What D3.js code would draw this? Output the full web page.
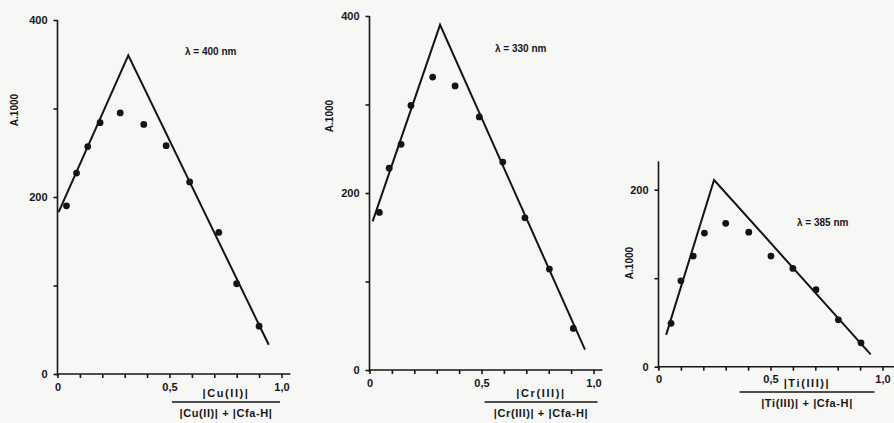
<!DOCTYPE html>
<html lang="en">
<head>
    <meta charset="UTF-8">
    <title>Job plots - Cu(II), Cr(III), Ti(III) with Cfa-H</title>
    <style>
        body {
            margin: 0;
            padding: 0;
            background-color: #f7f7f6;
        }
        svg {
            display: block;
            font-family: "Liberation Sans", Arial, sans-serif;
            font-weight: bold;
        }
        .axis path, .axis line {
            stroke: #161616;
            stroke-width: 1.6;
        }
        .axis text {
            fill: #161616;
            font-size: 11px;
            font-weight: bold;
            font-family: "Liberation Sans", Arial, sans-serif;
        }
        .fit {
            fill: none;
            stroke: #141414;
            stroke-width: 2;
        }
        .dot {
            fill: #141414;
        }
        .lbl {
            fill: #161616;
            font-size: 10px;
        }
        .frac {
            fill: #161616;
            font-size: 11px;
            letter-spacing: 0.6px;
        }
    </style>
</head>
<body>
    <svg width="894" height="423"></svg>

    <script src="https://d3js.org/d3.v7.min.js"></script>
    <script>
        // Cu(II), lambda = 400 nm
        const cuX = [0.04, 0.085, 0.135, 0.19, 0.28, 0.385, 0.485, 0.59, 0.72, 0.8, 0.9];
        const cuY = [190, 227, 257, 284, 295, 282, 258, 217, 160, 102, 54];
        const cuLineX = [0.005, 0.316, 0.943];
        const cuLineY = [183, 360, 33];

        // Cr(III), lambda = 330 nm
        const crX = [0.044, 0.088, 0.141, 0.185, 0.282, 0.382, 0.49, 0.595, 0.694, 0.803, 0.91];
        const crY = [178, 228, 255, 299, 331, 321, 286, 235, 172, 114, 47];
        const crLineX = [0.014, 0.315, 0.962];
        const crLineY = [168, 390, 23];

        // Ti(III), lambda = 385 nm
        const tiX = [0.056, 0.1, 0.155, 0.205, 0.3, 0.403, 0.502, 0.6, 0.703, 0.803, 0.904];
        const tiY = [49, 97, 125, 151, 162, 152, 125, 111, 87, 53, 27];
        const tiLineX = [0.034, 0.248, 0.947];
        const tiLineY = [36, 211, 14];

        const xTicks = [0, 0.1, 0.2, 0.3, 0.4, 0.5, 0.6, 0.7, 0.8, 0.9, 1.0];
        const xTickLabels = {0: "0", 0.5: "0,5", 1: "1,0"};
        const yLabelText = "A.1000";

        const panels = [
            {xs: cuX, ys: cuY, lx: cuLineX, ly: cuLineY, x0: 57.5, y0: 374, yMax: 400, xMax: 1.04,
             yTicks: [0, 100, 200, 300, 400], yTickLabels: [0, 200, 400],
             lambda: "λ = 400 nm", lamPos: [185, 55],
             ylPos: [18, 110], num: "|Cu(II)|", den: "|Cu(II)| + |Cfa-H|",
             fracX: 226, fracY: 402, fracW: 108},
            {xs: crX, ys: crY, lx: crLineX, ly: crLineY, x0: 369.5, y0: 370, yMax: 400, xMax: 1.04,
             yTicks: [0, 100, 200, 300, 400], yTickLabels: [0, 200, 400],
             lambda: "λ = 330 nm", lamPos: [495, 52],
             ylPos: [333, 116], num: "|Cr(III)|", den: "|Cr(III)| + |Cfa-H|",
             fracX: 541, fracY: 402, fracW: 113},
            {xs: tiX, ys: tiY, lx: tiLineX, ly: tiLineY, x0: 658.5, y0: 366.7, yMax: 232, xMax: 1.06,
             yTicks: [0, 100, 200], yTickLabels: [0, 200],
             lambda: "λ = 385 nm", lamPos: [797, 226],
             ylPos: [633, 263], num: "|Ti(III)|", den: "|Ti(III)| + |Cfa-H|",
             fracX: 807, fracY: 392, fracW: 135}
        ];

        const svg = d3.select("svg");

        panels.forEach(p => {
            const x = d3.scaleLinear().domain([0, 1]).range([p.x0, p.x0 + 224]);
            const y = d3.scaleLinear().domain([0, 400]).range([p.y0, p.y0 - 354]);
            const g = svg.append("g");

            // x axis
            const xa = g.append("g")
                .attr("class", "axis")
                .attr("transform", `translate(0,${p.y0})`)
                .call(d3.axisBottom(x)
                    .tickValues(xTicks)
                    .tickSizeInner(4)
                    .tickSizeOuter(0)
                    .tickPadding(5)
                    .tickFormat(d => xTickLabels[d] || ""));
            xa.select(".domain").attr("d", `M${x(0)},0H${x(p.xMax)}`);

            // y axis
            const ya = g.append("g")
                .attr("class", "axis")
                .attr("transform", `translate(${p.x0},0)`)
                .call(d3.axisLeft(y)
                    .tickValues(p.yTicks)
                    .tickSizeInner(4)
                    .tickSizeOuter(0)
                    .tickPadding(6)
                    .tickFormat(d => p.yTickLabels.includes(d) ? d : ""));
            ya.select(".domain").attr("d", `M0,${y(0) + 2}V${y(p.yMax)}`);

            // fitted triangle
            const pts = p.lx.map((v, i) => [v, p.ly[i]]);
            g.append("path")
                .datum(pts)
                .attr("class", "fit")
                .attr("d", d3.line().x(d => x(d[0])).y(d => y(d[1])));

            // measured points
            g.selectAll(".dot")
                .data(p.xs.map((v, i) => [v, p.ys[i]]))
                .join("circle")
                .attr("class", "dot")
                .attr("cx", d => x(d[0]))
                .attr("cy", d => y(d[1]))
                .attr("r", 3.4);

            // wavelength
            g.append("text")
                .attr("class", "lbl")
                .attr("x", p.lamPos[0])
                .attr("y", p.lamPos[1])
                .text(p.lambda);

            // y label
            g.append("text")
                .attr("class", "lbl")
                .attr("transform", `translate(${p.ylPos[0]},${p.ylPos[1]}) rotate(-90)`)
                .attr("text-anchor", "middle")
                .text(yLabelText);

            // x label as a fraction
            g.append("text")
                .attr("class", "frac")
                .attr("x", p.fracX)
                .attr("y", p.fracY - 5)
                .attr("text-anchor", "middle")
                .style("letter-spacing", "1.6px")
                .text(p.num);
            g.append("line")
                .attr("x1", p.fracX - p.fracW / 2)
                .attr("x2", p.fracX + p.fracW / 2)
                .attr("y1", p.fracY)
                .attr("y2", p.fracY)
                .attr("stroke", "#161616")
                .attr("stroke-width", 1.3);
            g.append("text")
                .attr("class", "frac")
                .attr("x", p.fracX)
                .attr("y", p.fracY + 15)
                .attr("text-anchor", "middle")
                .text(p.den);
        });
    </script>
</body>
</html>
